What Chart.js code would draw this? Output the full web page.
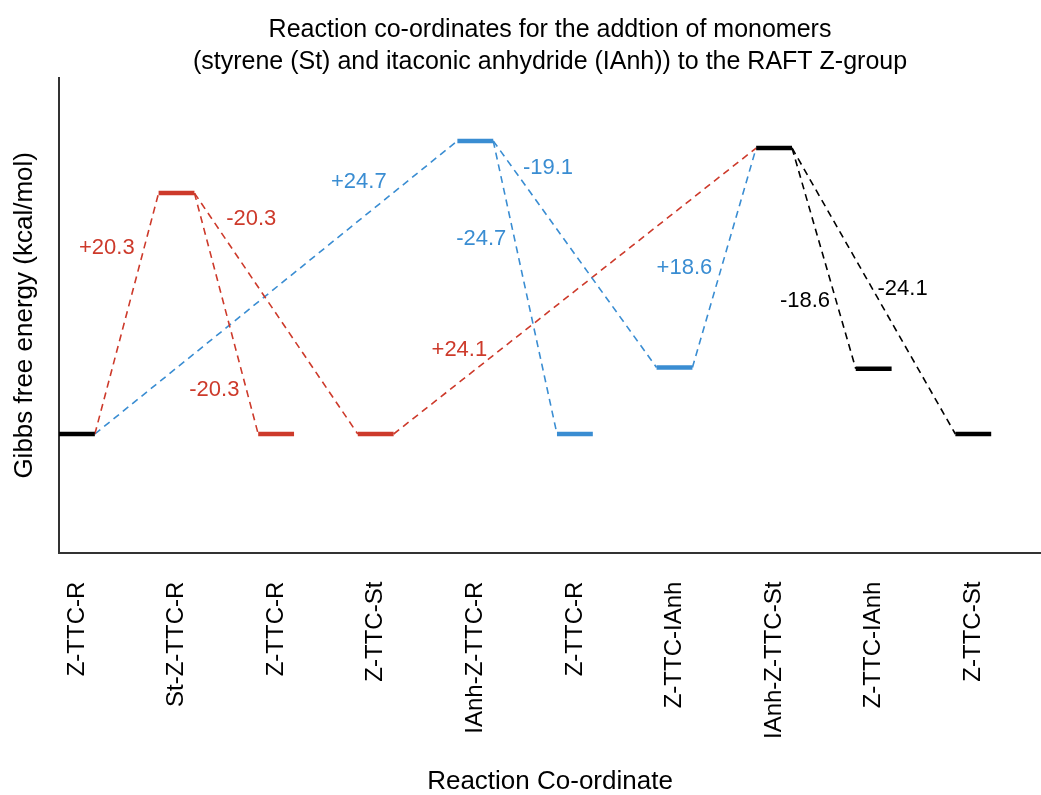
<!DOCTYPE html>
<html>
<head>
<meta charset="utf-8">
<script src="https://cdn.jsdelivr.net/npm/chart.js@4.4.1/dist/chart.umd.min.js"></script>
<style>
  html, body { margin: 0; padding: 0; background: #fff; }
  #wrap { width: 1041px; height: 795px; }
</style>
</head>
<body>
<div id="wrap"><canvas id="energyChart"></canvas></div>
<script>
// reaction states along the x axis
const states = ['Z-TTC-R', 'St-Z-TTC-R', 'Z-TTC-R', 'Z-TTC-St', 'IAnh-Z-TTC-R',
                'Z-TTC-R', 'Z-TTC-IAnh', 'IAnh-Z-TTC-St', 'Z-TTC-IAnh', 'Z-TTC-St'];
// relative Gibbs free energy of each state (kcal/mol)
const energies = [0, 20.3, 0, 0, 24.7, 0, 5.6, 24.1, 5.5, 0];
const stateSeries = ['black', 'red', 'red', 'red', 'blue', 'blue', 'blue', 'black', 'black', 'black'];

// dashed steps between states
const stepFrom = [0, 1, 1, 0, 4, 4, 3, 6, 7, 7];
const stepTo = [1, 2, 3, 4, 5, 6, 7, 7, 8, 9];
const stepSeries = ['red', 'red', 'red', 'blue', 'blue', 'blue', 'red', 'blue', 'black', 'black'];
const stepLabels = ['+20.3', '-20.3', '-20.3', '+24.7', '-24.7', '-19.1', '+24.1', '+18.6', '-18.6', '-24.1'];
// where each step label sits (x in state units, y in kcal/mol)
const labelX = [0.30, 1.38, 1.75, 2.83, 4.06, 4.73, 3.84, 6.10, 7.31, 8.29];
const labelY = [15.7, 3.7, 18.1, 21.2, 16.4, 22.4, 7.1, 14.0, 11.2, 12.2];

const colours = { black: '#000000', red: '#cd3a2b', blue: '#3a8dd2' };
const FONT = '"Liberation Sans", Arial, sans-serif';
const HALF = 0.18; // half width of a level bar

const datasets = [];

// level bars
states.forEach((s, i) => {
    datasets.push({
        label: s,
        data: [{ x: i - HALF, y: energies[i] }, { x: i + HALF, y: energies[i] }],
        borderColor: colours[stateSeries[i]],
        borderWidth: 4.5,
        pointRadius: 0,
        fill: false
    });
});

// dashed connectors
stepFrom.forEach((a, i) => {
    const b = stepTo[i];
    datasets.push({
        label: stepLabels[i],
        data: [{ x: a + HALF, y: energies[a] }, { x: b - HALF, y: energies[b] }],
        borderColor: colours[stepSeries[i]],
        borderWidth: 1.6,
        borderDash: [7, 5],
        pointRadius: 0,
        fill: false
    });
});

// step labels
const stepLabelPlugin = {
    id: 'stepLabels',
    afterDatasetsDraw(chart) {
        const { ctx, scales: { x, y } } = chart;
        ctx.save();
        ctx.font = '22px ' + FONT;
        ctx.textAlign = 'center';
        ctx.textBaseline = 'middle';
        stepLabels.forEach((txt, i) => {
            ctx.fillStyle = colours[stepSeries[i]];
            ctx.fillText(txt, x.getPixelForValue(labelX[i]), y.getPixelForValue(labelY[i]));
        });
        ctx.restore();
    }
};

const ctx = document.getElementById('energyChart').getContext('2d');
new Chart(ctx, {
    type: 'line',
    data: { datasets: datasets },
    plugins: [stepLabelPlugin],
    options: {
        responsive: true,
        maintainAspectRatio: false,
        animation: false,
        layout: { padding: 0 },
        plugins: {
            legend: { display: false },
            tooltip: { enabled: false },
            title: {
                display: true,
                fullSize: false,
                text: ['Reaction co-ordinates for the addtion of monomers',
                       '(styrene (St) and itaconic anhydride (IAnh)) to the RAFT Z-group'],
                color: '#000',
                font: { family: FONT, size: 25, weight: 'normal', lineHeight: 1.28 },
                padding: { top: 14, bottom: 0 }
            }
        },
        scales: {
            x: {
                type: 'linear',
                min: -HALF,
                max: 9.68,
                grid: { display: false, drawTicks: false },
                border: { display: true, color: '#333', width: 2 },
                afterBuildTicks: axis => { axis.ticks = states.map((s, i) => ({ value: i })); },
                ticks: {
                    autoSkip: false,
                    minRotation: 90,
                    maxRotation: 90,
                    padding: 29,
                    color: '#000',
                    font: { family: FONT, size: 24 },
                    callback: v => states[v]
                },
                title: {
                    display: true,
                    text: 'Reaction Co-ordinate',
                    color: '#000',
                    font: { family: FONT, size: 26, lineHeight: 1 },
                    padding: { top: 1, bottom: 0 }
                }
            },
            y: {
                min: -10,
                max: 30,
                grid: { display: false, drawTicks: false },
                border: { display: true, color: '#333', width: 2 },
                ticks: { display: false },
                title: {
                    display: true,
                    text: 'Gibbs free energy (kcal/mol)',
                    color: '#000',
                    font: { family: FONT, size: 26, lineHeight: 1 },
                    padding: { top: 12, bottom: 21 }
                }
            }
        }
    }
});
</script>
</body>
</html>
